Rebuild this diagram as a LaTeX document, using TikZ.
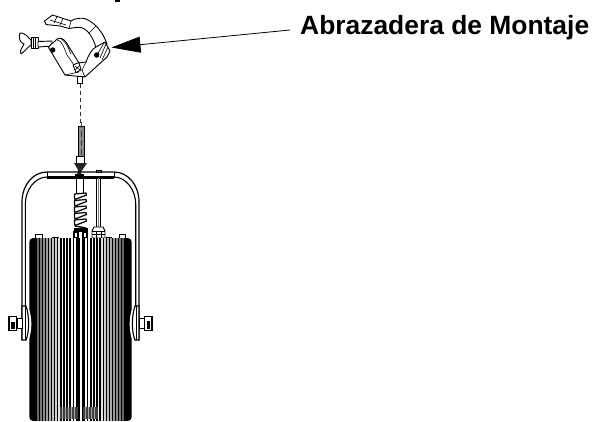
\documentclass[tikz,border=0pt]{standalone}
\usepackage{fontspec}
\setmainfont{Liberation Sans}
\usetikzlibrary{arrows.meta}
\tikzset{
  ln/.style={line width=0.9bp,black},
  thin ln/.style={line width=0.6bp,black},
  part/.style={ln,fill=white,line join=round},
  lbl/.style={font=\bfseries\fontsize{26.4bp}{28bp}\selectfont,anchor=base west,inner sep=0pt},
  call/.style={line width=0.8bp,-{Triangle[length=29bp,width=16bp]}},
  guide/.style={line width=0.7bp,black!80,dash pattern=on 4bp off 3bp}
}
\begin{document}
\begin{tikzpicture}[x=1bp,y=-1bp]
\useasboundingbox (0,0) rectangle (594,421);
\fill[white] (0,0) rectangle (594,421);
% label and pointer
\node[lbl] (label) at (300,34.5) {Abrazadera de Montaje};
\coordinate (tip) at (111.5,47.5);
\coordinate (start) at (290,30);
\draw[call] (start) -- (tip);
\fill (115,0) rectangle (120,1.5);
% clamp: wing bolt
\draw[part] (20,33) .. controls (24,32) and (28,37) .. (31,40) -- (31,45) .. controls (27,48) and (24,52) .. (21,54) .. controls (19,50) and (23,47) .. (24,44) .. controls (20,43) and (18,37) .. (20,33) -- cycle;
\draw[part] (31,37.5) rectangle (38,48);
\draw[ln] (33,37.5) -- (33,48) (35.5,37.5) -- (35.5,48);
\draw[part] (38,41.5) -- (52,41) -- (52,46) -- (38,47) -- cycle;
% clamp: upper jaw
\draw[part] (44.5,21) -- (52.5,15) -- (71,21) .. controls (75,18) and (82,17.5) .. (86,19) .. controls (95,23) and (103,32) .. (107,44) -- (97,52) .. controls (95,42) and (90,30) .. (81,27.5) .. controls (76,27) and (73,28) .. (69,28.5) -- (60,26) -- (46,24.5) -- cycle;
\draw[thin ln] (50,20) -- (66,25) (57,16.5) -- (54,23) (63,18.5) -- (60,25) (96,26) -- (89,33) (71,21) -- (69,28.5);
% clamp: lower body
\draw[part] (48.5,47.5) .. controls (51,43) and (54,43) .. (57,39) .. controls (62,36) and (66,41) .. (69,47) -- (79,63) -- (86,62) .. controls (89,54) and (92,49) .. (96,47) -- (105,42) -- (110,51) -- (107,57) -- (85,77) -- (65,75) -- cycle;
\draw[thin ln] (57,40) .. controls (62,40) and (64,48) .. (67,55) -- (74,65) (61,38.5) .. controls (66,42) and (68,47) .. (71,54);
\draw[part] (73,65) -- (79,62.5) -- (81,70) -- (76,72.5) -- cycle;
\draw[thin ln] (75,70) -- (80,65) (75,66) -- (80,70);
\draw[thin ln] (106,44) -- (100,58) (108,47) -- (102,60) (104,43) -- (97,55) (86,62) -- (82,70) -- (85,77) (65,75) -- (79,72);
\fill (52.7,50) circle (2.7bp);
\fill (96.7,55) circle (2.7bp);
% clamp: bottom stud
\draw[part] (77.5,76.5) rectangle (82.5,83);
% guide
\node[inner sep=0pt,minimum size=0pt] (studend) at (80,83.5) {};
\node[inner sep=0pt,minimum size=0pt] (boltend) at (80,165) {};
\draw[guide] (studend) -- (boltend);
% threaded bolt
\draw[ln,fill=black!45] (78,126) rectangle (84,156);
\draw[line width=0.8bp,black!75,dash pattern=on 6bp off 3bp] (81,122) -- (81,156);
\draw[part] (76.5,156) rectangle (84.5,165);
\fill[black!85] (74,163) -- (87,163) -- (81,172) -- (81,175) -- (77,175) -- (78,170) -- cycle;
% yoke
\draw[line width=1.2bp] (22,340) -- (22,202) .. controls (22,185) and (33,172) .. (47,172) -- (114,172) .. controls (128,172) and (139,185) .. (139,202) -- (139,340);
\draw[line width=1.1bp] (25.3,340) -- (25.3,204) .. controls (25.3,190) and (35,177) .. (47,177) -- (114,177) .. controls (126,177) and (135.7,190) .. (135.7,204) -- (135.7,340);
\draw[line width=2.2bp] (47,177.5) -- (114,177.5);
\draw[line width=0.6bp] (47,172) -- (47,178) (114,172) -- (114,178);
\fill (75,174) rectangle (84,176);
% second rod
\draw[ln] (96,170.3) rectangle (101,172);
\draw[line width=1bp] (96.7,178) -- (96.7,227) (100.7,178) -- (100.7,227);
\draw[line width=0.5bp,black!50] (98.7,178) -- (98.7,227);
% spring rod
\draw[line width=1bp] (76.7,178) -- (76.7,193) (83.3,178) -- (83.3,193);
\foreach \y in {193,199.5,206,212.5,219}{
  \draw[line width=1.2bp,black,line join=round,fill=white] (74.5,\y+1) -- (86,\y) -- (86.5,\y+2) -- (75,\y+6.5) -- (74.5,\y+4.5) -- cycle;
}
\draw[line width=1.4bp] (75,226) -- (86,228);
% spring base
\fill (73.5,228) rectangle (87.5,232);
\draw[line width=1.6bp,fill=white] (74,232) rectangle (78,238);
\draw[line width=1.6bp,fill=white] (83,232) rectangle (87,238);
% nut
\draw[part] (94,227) -- (103,227) -- (105,231) -- (105,238) -- (92,238) -- (92,231) -- cycle;
\draw[ln] (92,231) -- (105,231) (96,231) -- (96,238) (101,231) -- (101,238) (92,234.5) -- (105,234.5);
% small tabs
\draw[part] (35,234) rectangle (42,238);
\draw[part] (119,234) rectangle (125,238);
\fill (52,236.5) rectangle (59,238.5);
\fill (106,236.5) rectangle (112,238.5);
% body
\begin{scope}
\clip[rounded corners=4bp] (29.3,238) rectangle (131.7,421);
\fill (29,238) rectangle (132,421);
\foreach \i in {0,...,12}{
  \pgfmathsetmacro{\lx}{38+3.05*\i}
  \pgfmathsetmacro{\rx}{123-3.05*\i}
  \pgfmathsetmacro{\sh}{min(100,40+7*\i)}
  \pgfmathsetmacro{\wd}{1.3+0.06*\i}
  \draw[white!\sh!black,line width=\wd bp] (\lx,238) -- (\lx,404);
  \draw[white!\sh!black,line width=\wd bp] (\rx,238) -- (\rx,404);
  \draw[white!\sh!black,line width=\wd bp] (\lx,404) -- (\lx,421);
  \draw[white!\sh!black,line width=\wd bp] (\rx,404) -- (\rx,421);
}
\fill[black!75] (60,407) rectangle (78,419);
\fill[black!75] (83,407) rectangle (98,419);
\foreach \x in {62,65,68,71,74,85,88,91,94}{
  \draw[black!35,line width=0.9bp] (\x,407) -- (\x,419);
}
\fill[white] (79.5,238) rectangle (82.3,421);
\end{scope}
% side knobs: left
\fill[white] (29.3,310) .. controls (32,318) and (32,330) .. (29.3,338) -- (28,338) -- (28,310) -- cycle;
\draw[line width=1.1bp,fill=white] (22,306) -- (26,306) .. controls (29.5,316) and (29.5,332) .. (26,340) -- (22,340) -- cycle;
\draw[ln] (25,306) -- (25,340);
\draw[part] (17,318) rectangle (22,328);
\draw[line width=1.6bp,fill=white] (9,316.5) rectangle (16.5,330.5);
\fill (11,322) rectangle (15,329);
% side knobs: right
\fill[white] (131.7,310) .. controls (129,318) and (129,330) .. (131.7,338) -- (133,338) -- (133,310) -- cycle;
\draw[line width=1.1bp,fill=white] (139,306) -- (135,306) .. controls (131.5,316) and (131.5,332) .. (135,340) -- (139,340) -- cycle;
\draw[ln] (136,306) -- (136,340);
\draw[part] (139,318) rectangle (144,328);
\draw[line width=1.6bp,fill=white] (144.5,316.5) rectangle (152,330.5);
\fill (147,321) rectangle (150,329);
\end{tikzpicture}
\end{document}
